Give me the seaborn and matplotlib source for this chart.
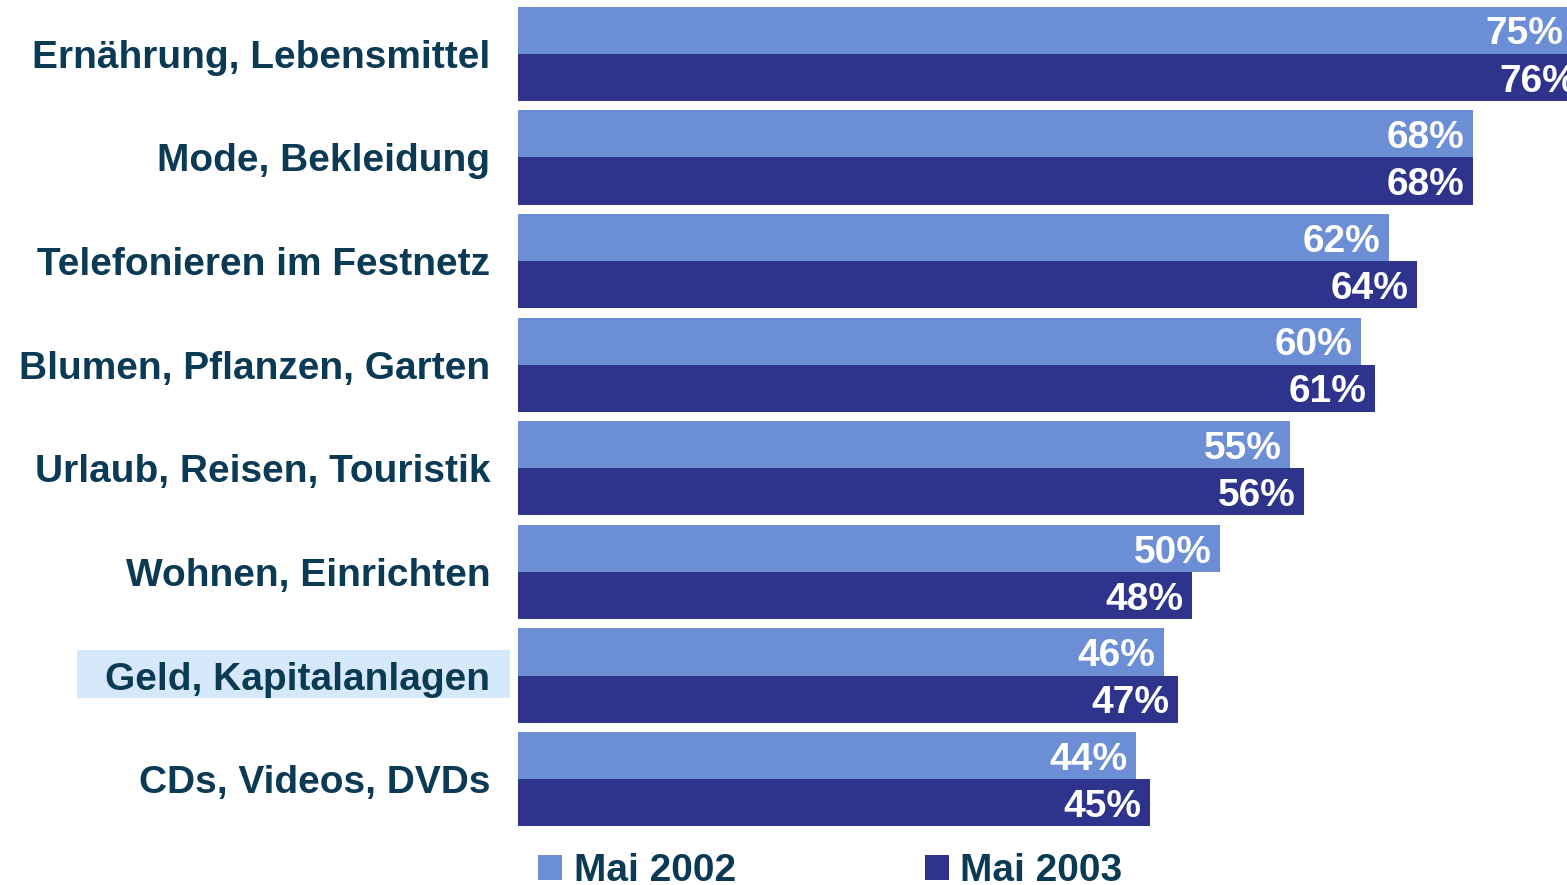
import numpy as np
import pandas as pd
import matplotlib
matplotlib.use("Agg")
import matplotlib.pyplot as plt
from matplotlib.patches import Rectangle
import seaborn as sns

kategorien = ["Ernährung, Lebensmittel", "Mode, Bekleidung", "Telefonieren im Festnetz",
              "Blumen, Pflanzen, Garten", "Urlaub, Reisen, Touristik", "Wohnen, Einrichten",
              "Geld, Kapitalanlagen", "CDs, Videos, DVDs"]
mai_2002 = [75, 68, 62, 60, 55, 50, 46, 44]
mai_2003 = [76, 68, 64, 61, 56, 48, 47, 45]
serien = ["Mai 2002", "Mai 2003"]

farben = {"Mai 2002": "#6b8ed4", "Mai 2003": "#2e338b"}
textfarbe = "#0b3a55"

df = pd.DataFrame({
    "Kategorie": kategorien * 2,
    "Wert": mai_2002 + mai_2003,
    "Jahr": [serien[0]] * len(kategorien) + [serien[1]] * len(kategorien),
})

sns.set_theme(style="white")
plt.rcParams['font.family'] = ['Liberation Sans', 'DejaVu Sans']

W, H = 1567, 885
fig = plt.figure(figsize=(W / 100, H / 100), dpi=100)
ax = fig.add_axes([518 / W, (H - 831) / H, (W - 518) / W, 829 / H])

sns.barplot(data=df, y="Kategorie", x="Wert", hue="Jahr", palette=farben,
            orient="h", width=0.91, saturation=1, errorbar=None, linewidth=0, ax=ax)

ax.set_xlim(0, 74.7)
ax.set_ylim(7.5, -0.5)
ax.set_xlabel("")
ax.set_ylabel("")
ax.set_xticks([])
sns.despine(ax=ax, left=True, bottom=True, top=True, right=True)
ax.tick_params(axis="y", length=0, pad=20)
for lbl in ax.get_yticklabels():
    lbl.set_fontsize(28)
    lbl.set_fontweight("bold")
    lbl.set_color(textfarbe)

# Prozentwerte an den Balkenenden
for cont in ax.containers:
    for bar in cont:
        w = bar.get_width()
        ax.annotate(f"{int(round(w))}%", (w, bar.get_y() + bar.get_height() / 2),
                    xytext=(-6, -3), textcoords="offset points", ha="right", va="center",
                    fontsize=28, fontweight="bold", color="white", annotation_clip=False)

# Hervorhebung "Geld, Kapitalanlagen"
fig.patches.append(Rectangle((77 / W, (H - 698) / H), 433 / W, 48 / H,
                             transform=fig.transFigure, facecolor="#d6e8fb",
                             edgecolor="none", zorder=-1))

handles, labels = ax.get_legend_handles_labels()
ax.get_legend().remove()
fig.legend(handles, labels, loc="lower left", bbox_to_anchor=(538 / W, -4 / H),
           ncol=2, frameon=False, borderaxespad=0, borderpad=0,
           handlelength=0.62, handleheight=0.62, handletextpad=0.3,
           columnspacing=4.85, prop={"size": 28, "weight": "bold"},
           labelcolor=textfarbe)

fig.savefig("out.png", dpi=100)
